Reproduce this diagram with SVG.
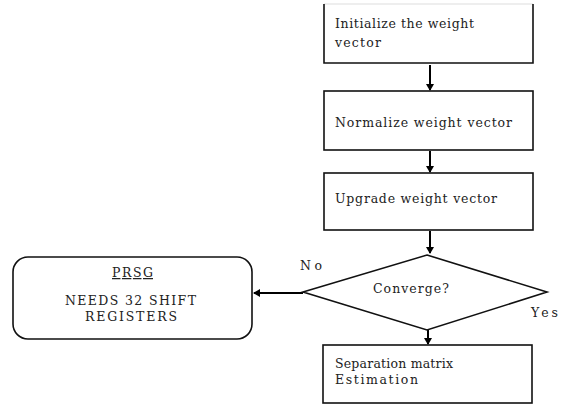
<svg xmlns="http://www.w3.org/2000/svg" width="562" height="407" viewBox="0 0 562 407">
<style>
.box{fill:#fff;stroke:#111;stroke-width:1.6}
.t{font-family:"DejaVu Serif","Liberation Serif",serif;font-size:12.5px;fill:#222}
.c{stroke:#000;stroke-width:2;fill:none}
</style>
<defs>
<marker id="ah" markerWidth="8" markerHeight="8" refX="6" refY="4" orient="auto" markerUnits="userSpaceOnUse">
<path d="M0,0 L7,4 L0,8 Z" fill="#000"/>
</marker>
</defs>
<rect width="562" height="407" fill="#fff"/>
<g id="connectors">
<line class="c" x1="430" y1="65" x2="430" y2="90" marker-end="url(#ah)"/>
<line class="c" x1="430" y1="151" x2="430" y2="172" marker-end="url(#ah)"/>
<line class="c" x1="430" y1="231" x2="430" y2="253" marker-end="url(#ah)"/>
<line class="c" x1="428" y1="330" x2="428" y2="344" marker-end="url(#ah)"/>
<line class="c" x1="303" y1="293" x2="254" y2="293" marker-end="url(#ah)"/>
</g>
<g id="n1">
<rect x="324" y="4" width="209" height="59" fill="#fff" stroke="none"/>
<path d="M324,4 L533,4" stroke="#ddd" stroke-width="1"/>
<path d="M324,4 L324,63 L533,63 L533,4" fill="none" stroke="#111" stroke-width="1.6"/>
<text class="t" x="335" y="28" textLength="139">Initialize the weight</text>
<text class="t" x="335" y="47" textLength="46">vector</text>
</g>
<g id="n2">
<rect class="box" x="324" y="91" width="209" height="59"/>
<text class="t" x="335" y="127" textLength="177">Normalize weight vector</text>
</g>
<g id="n3">
<rect class="box" x="324" y="173" width="209" height="57"/>
<text class="t" x="335" y="203" textLength="162">Upgrade weight vector</text>
</g>
<g id="n4">
<polygon class="box" points="427,255 547,292 427,330 303,292"/>
<text class="t" x="373" y="293" textLength="76">Converge?</text>
</g>
<g id="n5">
<rect class="box" x="323" y="345" width="209" height="58"/>
<text class="t" x="335" y="368" textLength="118">Separation matrix</text>
<text class="t" x="335" y="384" textLength="83">Estimation</text>
</g>
<g id="n6">
<rect class="box" x="13" y="257" width="239" height="82" rx="15" ry="15"/>
<text class="t" x="112" y="277" textLength="41" text-decoration="underline">PRSG</text>
<text class="t" x="65" y="305" textLength="131">NEEDS 32 SHIFT</text>
<text class="t" x="85" y="321" textLength="92">REGISTERS</text>
</g>
<g id="labels">
<text class="t" x="300" y="270" textLength="22">No</text>
<text class="t" x="531" y="317" textLength="27">Yes</text>
</g>
</svg>
